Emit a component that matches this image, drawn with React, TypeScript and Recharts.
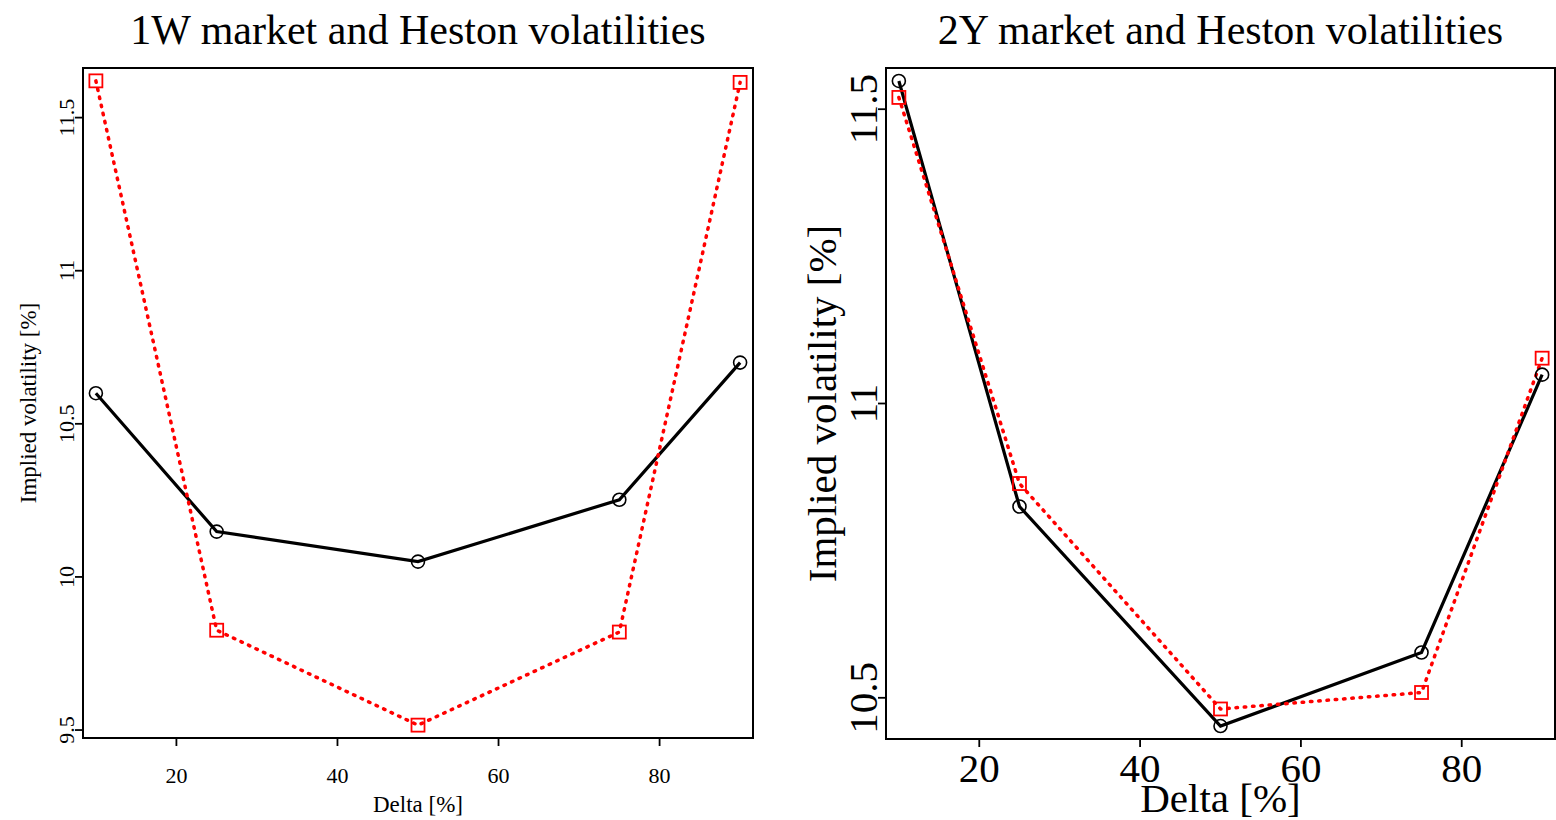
import React from "react";
import { LineChart, Line, XAxis, YAxis, Label } from "recharts";

// ---- data ----
const deltas = [10, 25, 50, 75, 90];
const market1W = [10.6, 10.148, 10.05, 10.252, 10.7];
const heston1W = [11.62, 9.826, 9.516, 9.82, 11.615];
const market2Y = [11.548, 10.825, 10.452, 10.577, 11.049];
const heston2Y = [11.52, 10.864, 10.481, 10.509, 11.077];
const xTicks = [20, 40, 60, 80];
const yTicks1W = [9.5, 10, 10.5, 11, 11.5];
const yTicks2Y = [10.5, 11, 11.5];
const titles = ["1W market and Heston volatilities", "2Y market and Heston volatilities"];
const xLabel = "Delta [%]";
const yLabel = "Implied volatility [%]";

const data1W = deltas.map((d, i) => ({ delta: d, market: market1W[i], heston: heston1W[i] }));
const data2Y = deltas.map((d, i) => ({ delta: d, market: market2Y[i], heston: heston2Y[i] }));

const FONT = "'Liberation Serif', 'Times New Roman', serif";
const axisStyle = { stroke: "#000", strokeWidth: 2, strokeLinecap: "square" as const };
const tickStyle = { stroke: "#000", strokeWidth: 1.8 };

const circleDot = (props: any) => (
  <circle key={`c${props.index}`} cx={props.cx} cy={props.cy} r={6.5} fill="none" stroke="#000" strokeWidth={1.6} />
);
const squareDot = (props: any) => (
  <rect key={`s${props.index}`} x={props.cx - 6.5} y={props.cy - 6.5} width={13} height={13} fill="none" stroke="#ff0000" strokeWidth={1.8} />
);

type PanelProps = {
  left: number;
  width: number;
  data: any[];
  title: string;
  yTicks: number[];
  yDomain: [number, number];
  xDomain: [number, number];
  tickFont: number;
  labelFont: number;
  yAxisW: number;
  rAxisW: number;
  bottomH: number;
  xTickMargin: number;
  yLabelBase: number;
  xLabelBase: number;
};

function Panel(p: PanelProps) {
  const xTick = (props: any) => (
    <text x={props.x} y={props.y} textAnchor="middle" fontSize={p.tickFont} fontFamily={FONT} fill="#000">
      {String(props.payload.value)}
    </text>
  );
  const yTick = (props: any) => (
    <text
      x={props.x}
      y={props.y}
      transform={`rotate(-90 ${props.x} ${props.y})`}
      textAnchor="middle"
      fontSize={p.tickFont}
      fontFamily={FONT}
      fill="#000"
    >
      {String(props.payload.value)}
    </text>
  );
  const titleContent = (props: any) => {
    const vb = props.viewBox || { x: 0, y: 0, width: 0 };
    return (
      <text x={vb.x + vb.width / 2} y={vb.y + 44} textAnchor="middle" fontSize={42} fontFamily={FONT} fill="#000">
        {p.title}
      </text>
    );
  };
  const xLabelContent = (props: any) => {
    const vb = props.viewBox || { x: 0, y: 0, width: 0 };
    return (
      <text x={vb.x + vb.width / 2} y={vb.y + p.xLabelBase} textAnchor="middle" fontSize={p.labelFont} fontFamily={FONT} fill="#000">
        {xLabel}
      </text>
    );
  };
  const yLabelContent = (props: any) => {
    const vb = props.viewBox || { x: 0, y: 0, height: 0 };
    const cx = vb.x + p.yLabelBase;
    const cy = vb.y + vb.height / 2;
    return (
      <text x={cx} y={cy} transform={`rotate(-90 ${cx} ${cy})`} textAnchor="middle" fontSize={p.labelFont} fontFamily={FONT} fill="#000">
        {yLabel}
      </text>
    );
  };

  return (
    <div style={{ position: "absolute", left: p.left, top: 0 }}>
      <LineChart width={p.width} height={820} data={p.data} margin={{ top: 0, right: 0, bottom: 0, left: 0 }}>
        <XAxis
          xAxisId="top"
          orientation="top"
          type="number"
          dataKey="delta"
          domain={p.xDomain}
          ticks={xTicks}
          tick={false}
          height={68}
          tickSize={8}
          axisLine={axisStyle}
          tickLine={tickStyle}
        >
          <Label content={titleContent} />
        </XAxis>
        <XAxis
          type="number"
          dataKey="delta"
          domain={p.xDomain}
          ticks={xTicks}
          tick={xTick}
          height={p.bottomH}
          tickSize={8}
          tickMargin={p.xTickMargin}
          axisLine={axisStyle}
          tickLine={tickStyle}
          interval={0}
        >
          <Label content={xLabelContent} />
        </XAxis>
        <YAxis
          type="number"
          domain={p.yDomain}
          ticks={p.yTicks}
          tick={yTick}
          width={p.yAxisW}
          tickSize={8}
          tickMargin={1}
          axisLine={axisStyle}
          tickLine={tickStyle}
          interval={0}
        >
          <Label content={yLabelContent} />
        </YAxis>
        <YAxis
          yAxisId="r"
          orientation="right"
          type="number"
          domain={p.yDomain}
          ticks={p.yTicks}
          tick={false}
          width={p.rAxisW}
          tickSize={8}
          axisLine={axisStyle}
          tickLine={tickStyle}
        />
        <Line
          type="linear"
          dataKey="market"
          stroke="#000"
          strokeWidth={3.2}
          dot={circleDot}
          activeDot={false}
          isAnimationActive={false}
        />
        <Line
          type="linear"
          dataKey="heston"
          stroke="#ff0000"
          strokeWidth={3.5}
          strokeDasharray="1.5 6.8"
          strokeLinecap="round"
          dot={squareDot}
          activeDot={false}
          isAnimationActive={false}
        />
      </LineChart>
    </div>
  );
}

export default function App() {
  return (
    <div style={{ position: "absolute", left: 0, top: 0, width: 1556, height: 820, background: "#fff", overflow: "hidden" }}>
      <Panel
        left={0}
        width={778}
        data={data1W}
        title={titles[0]}
        yTicks={yTicks1W}
        yDomain={[9.474, 11.662]}
        xDomain={[8.4, 91.6]}
        tickFont={22}
        labelFont={23}
        yAxisW={83}
        rAxisW={25}
        bottomH={82}
        xTickMargin={37}
        yLabelBase={36}
        xLabelBase={74}
      />
      <Panel
        left={778}
        width={778}
        data={data2Y}
        title={titles[1]}
        yTicks={yTicks2Y}
        yDomain={[10.43, 11.57]}
        xDomain={[8.4, 91.6]}
        tickFont={41}
        labelFont={41}
        yAxisW={108}
        rAxisW={1}
        bottomH={81}
        xTickMargin={35}
        yLabelBase={58}
        xLabelBase={73}
      />
    </div>
  );
}
